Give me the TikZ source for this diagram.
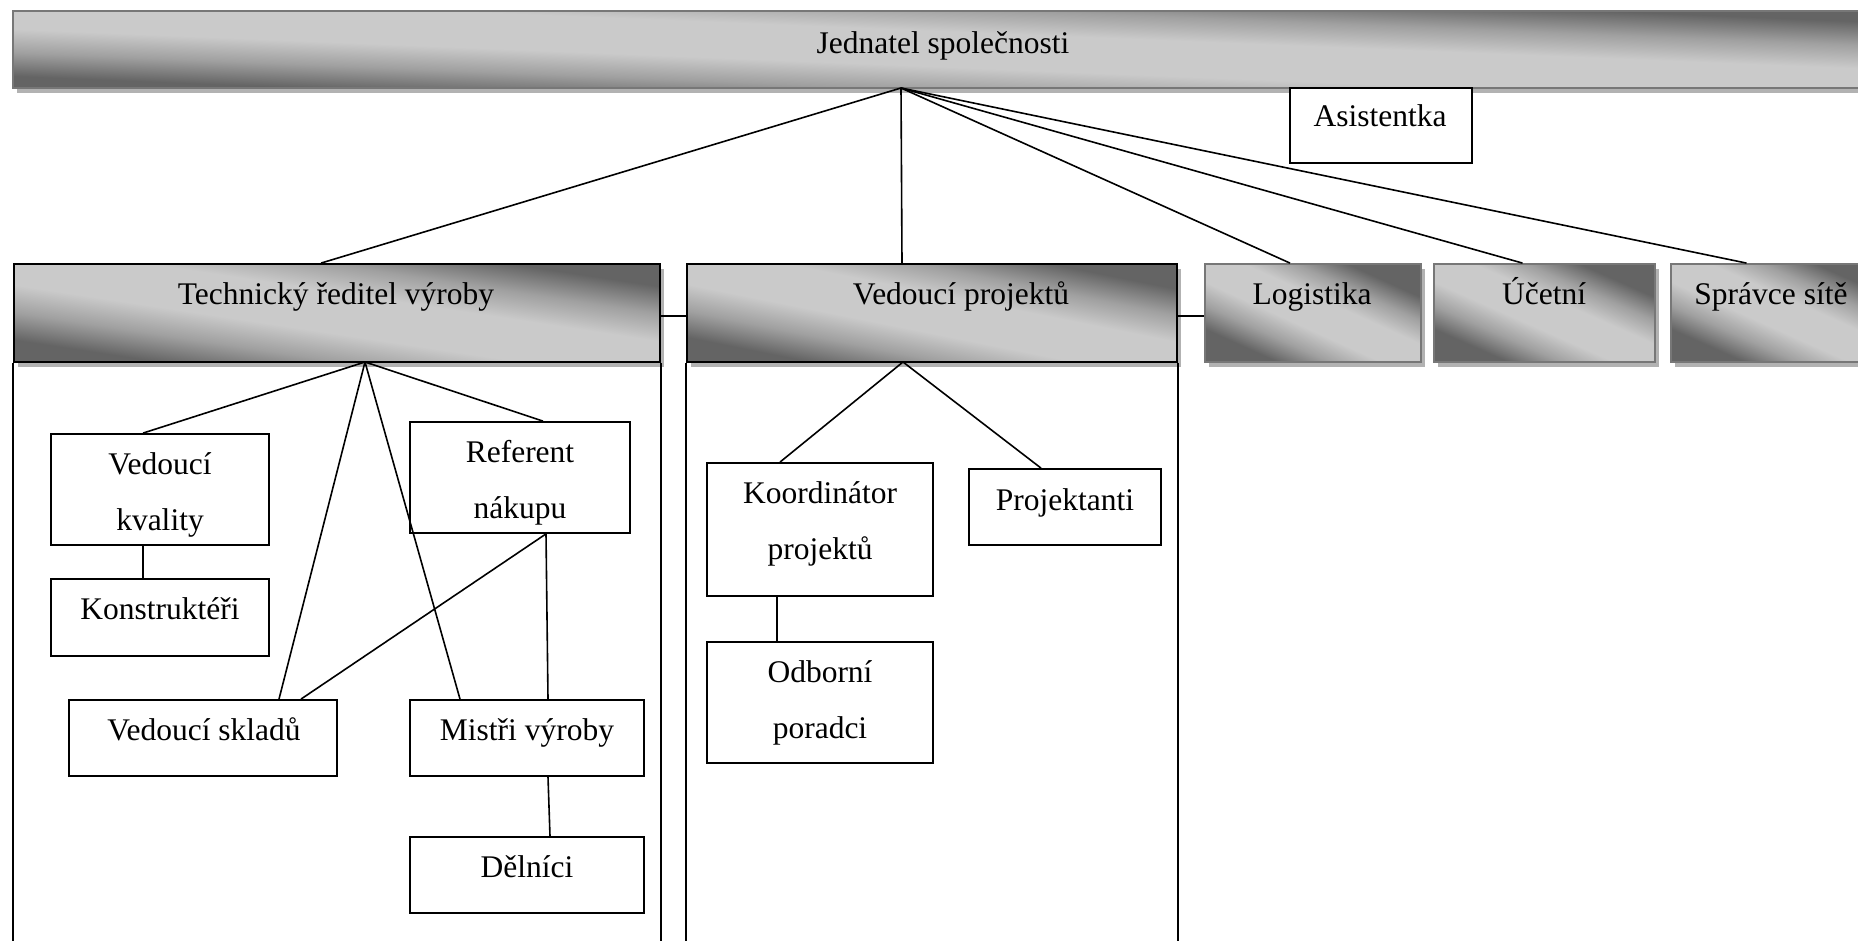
\documentclass[tikz,border=0pt]{standalone}
\usepackage{fontspec}
\setmainfont{Liberation Serif}
\usetikzlibrary{shadows}
\definecolor{hdk}{HTML}{646464}
\definecolor{hlt}{HTML}{CACACA}
\definecolor{hmd}{HTML}{A0A0A0}
\definecolor{hbord}{HTML}{777777}
\definecolor{shdcol}{HTML}{B2B2B2}
\pgfdeclareverticalshading{hdrshade}{100bp}{color(0bp)=(hdk); color(25bp)=(hdk); color(28bp)=(hdk); color(36bp)=(hmd); color(44bp)=(hlt); color(56bp)=(hlt); color(64bp)=(hmd); color(72bp)=(hdk); color(75bp)=(hdk); color(100bp)=(hdk)}
\tikzset{
  ln/.style={line width=1.6pt, draw=black},
  box/.style={draw=black, line width=1.8pt, fill=white, inner sep=0pt},
  hdr/.style={shade, shading=hdrshade, draw=#1, line width=1.8pt, inner sep=0pt,
    drop shadow={shadow xshift=4pt, shadow yshift=-5pt, fill=shdcol, opacity=1}},
  hdr/.default=black,
  txt/.style={inner sep=0pt, anchor=base, font=\fontsize{31.5}{56}\selectfont},
}
\begin{document}
\begin{tikzpicture}[x=1pt, y=-1pt]
\useasboundingbox (0,0) rectangle (1858,941);
\clip (0,0) rectangle (1858,941);

% top bar
\node[hdr=hbord, shading angle=-2.33, minimum width=1890pt, minimum height=77pt] (top) at (958,49.5) {};
\node[txt] (top-t) at (943,54) {Jednatel společnosti};

% assistant
\node[box, minimum width=182pt, minimum height=75pt] (asist) at (1381,125.5) {};
\node[txt] (asist-t) at (1380,127) {Asistentka};

% headers
\node[hdr, shading angle=-8.63, minimum width=646pt, minimum height=98pt] (techh) at (337,313) {};
\node[txt] (techh-t) at (336,305) {Technický ředitel výroby};
\node[hdr, shading angle=-11.31, minimum width=490pt, minimum height=98pt] (projh) at (932,313) {};
\node[txt] (projh-t) at (961,305) {Vedoucí projektů};
\node[hdr=hbord, shading angle=-24.4, minimum width=216pt, minimum height=98pt] (logh) at (1313,313) {};
\node[txt] (logh-t) at (1312,305) {Logistika};
\node[hdr=hbord, shading angle=-23.9, minimum width=221pt, minimum height=98pt] (ucth) at (1544.5,313) {};
\node[txt] (ucth-t) at (1544,305) {Účetní};
\node[hdr=hbord, shading angle=-24.1, minimum width=219pt, minimum height=98pt] (sprh) at (1780.5,313) {};
\node[txt] (sprh-t) at (1771,305) {Správce sítě};

% container sides
\draw[line width=1.8pt] (techh.south west) -- ++(0,600);
\draw[line width=1.8pt] (techh.south east) -- ++(0,600);
\draw[line width=1.8pt] (projh.south west) -- ++(0,600);
\draw[line width=1.8pt] (projh.south east) -- ++(0,600);

% apexes
\coordinate (ja) at (901,88);
\coordinate (ta) at (365,362);
\coordinate (pa) at (903,362);

% boxes in technical section
\node[box, minimum width=218pt, minimum height=111pt] (kval) at (160,489.5) {};
\node[txt] (kval-t) at (160,474) {\begin{tabular}[t]{@{}c@{}}Vedoucí\\kvality\end{tabular}};
\node[box, minimum width=218pt, minimum height=77pt] (konst) at (160,617.5) {};
\node[txt] (konst-t) at (160,619) {Konstruktéři};
\node[box, minimum width=220pt, minimum height=111pt] (ref) at (520,477.5) {};
\node[txt] (ref-t) at (520,462) {\begin{tabular}[t]{@{}c@{}}Referent\\nákupu\end{tabular}};
\node[box, minimum width=268pt, minimum height=76pt] (sklad) at (203,738) {};
\node[txt] (sklad-t) at (204,740) {Vedoucí skladů};
\node[box, minimum width=234pt, minimum height=76pt] (mist) at (527,738) {};
\node[txt] (mist-t) at (527,740) {Mistři výroby};
\node[box, minimum width=234pt, minimum height=76pt] (deln) at (527,875) {};
\node[txt] (deln-t) at (527,877) {Dělníci};

% boxes in project section
\node[box, minimum width=226pt, minimum height=133pt] (koord) at (820,529.5) {};
\node[txt] (koord-t) at (820,503) {\begin{tabular}[t]{@{}c@{}}Koordinátor\\projektů\end{tabular}};
\node[box, minimum width=192pt, minimum height=76pt] (projekt) at (1065,507) {};
\node[txt] (projekt-t) at (1065,510) {Projektanti};
\node[box, minimum width=226pt, minimum height=121pt] (odb) at (820,702.5) {};
\node[txt] (odb-t) at (820,682) {\begin{tabular}[t]{@{}c@{}}Odborní\\poradci\end{tabular}};

% connectors from the top
\draw[ln] (ja) -- ([xshift=-16pt]techh.north);
\draw[ln] (ja) -- ([xshift=-30pt]projh.north);
\draw[ln] (ja) -- ([xshift=-23pt]logh.north);
\draw[ln] (ja) -- ([xshift=-22pt]ucth.north);
\draw[ln] (ja) -- ([xshift=-34pt]sprh.north);
\draw[ln] ([yshift=-3pt]techh.east) -- ([yshift=-3pt]projh.west);
\draw[ln] ([yshift=-3pt]projh.east) -- ([yshift=-3pt]logh.west);

% technical section connectors
\draw[ln] (ta) -- ([xshift=-17pt]kval.north);
\draw[ln] ([xshift=-17pt]kval.south) -- ([xshift=-17pt]konst.north);
\draw[ln] (ta) -- ([xshift=23pt]ref.north);
\draw[ln] (ta) -- ([xshift=76pt]sklad.north);
\draw[ln] ([xshift=26pt]ref.south) -- ([xshift=98pt]sklad.north);
\draw[ln] (ta) -- ([xshift=-67pt]mist.north);
\draw[ln] ([xshift=26pt]ref.south) -- ([xshift=21pt]mist.north);
\draw[ln] ([xshift=21pt]mist.south) -- ([xshift=23pt]deln.north);

% project section connectors
\draw[ln] (pa) -- ([xshift=-40pt]koord.north);
\draw[ln] (pa) -- ([xshift=-24pt]projekt.north);
\draw[ln] ([xshift=-43pt]koord.south) -- ([xshift=-43pt]odb.north);
\end{tikzpicture}
\end{document}
